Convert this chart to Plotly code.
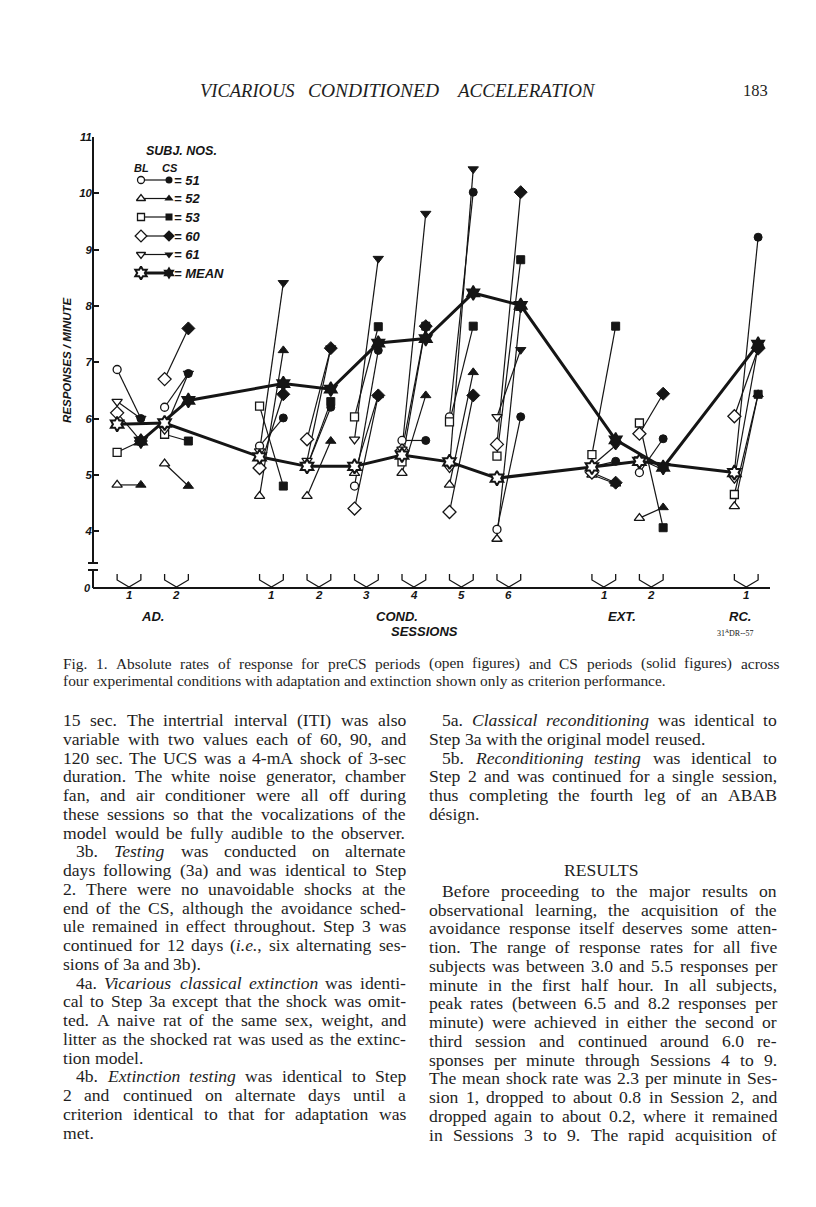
import itertools
import plotly.graph_objects as go

# ---------------- data ----------------
sessions = ["AD 1", "AD 2", "COND 1", "COND 2", "COND 3", "COND 4",
            "COND 5", "COND 6", "EXT 1", "EXT 2", "RC 1"]
session_pos = [0, 1, 3, 4, 5, 6, 7, 8, 10, 11, 13]
session_labels = ["1", "2", "1", "2", "3", "4", "5", "6", "1", "2", "1"]

bl_51 = [6.87, 6.20, 5.51, 5.15, 4.80, 5.61, 6.03, 4.03, 5.14, 5.04, 5.04]
cs_51 = [6.00, 6.80, 6.01, 6.20, 7.21, 5.61, 10.02, 6.03, 5.24, 5.64, 9.22]
bl_52 = [4.82, 5.20, 4.62, 4.62, 5.03, 5.03, 4.82, 3.86, 5.00, 4.23, 4.44]
cs_52 = [4.82, 4.80, 7.21, 5.60, 6.41, 6.41, 6.82, 7.96, 4.84, 4.42, 6.43]
bl_53 = [5.40, 5.72, 6.22, 5.15, 6.03, 5.23, 5.94, 5.33, 5.36, 5.92, 4.65]
cs_53 = [5.60, 5.60, 4.80, 6.30, 7.63, 7.64, 7.64, 8.82, 7.64, 4.06, 6.43]
bl_60 = [6.10, 6.70, 5.12, 5.63, 4.40, 5.43, 4.34, 5.54, 5.04, 5.73, 6.04]
cs_60 = [5.60, 7.60, 6.43, 7.25, 6.41, 7.64, 6.41, 10.02, 4.86, 6.44, 7.24]
bl_61 = [6.30, 5.80, 5.42, 5.25, 5.63, 5.45, 5.12, 6.03, 5.16, 5.28, 4.93]
cs_61 = [6.00, 6.80, 8.41, 7.25, 8.84, 9.64, 10.43, 7.22, 5.52, 5.09, 7.28]
mean_bl = [5.90, 5.92, 5.32, 5.15, 5.15, 5.35, 5.23, 4.94, 5.14, 5.24, 5.04]
mean_cs = [5.60, 6.32, 6.62, 6.52, 7.34, 7.42, 8.23, 8.01, 5.62, 5.13, 7.32]

subjects = ["51", "52", "53", "60", "61"]
bl_series = [bl_51, bl_52, bl_53, bl_60, bl_61]
cs_series = [cs_51, cs_52, cs_53, cs_60, cs_61]
y_ticks = [4, 5, 6, 7, 8, 9, 10, 11]

# ---------------- geometry / style ----------------
PAGE_W, PAGE_H = 816, 1207
BODY_M = 8                                   # html body margin
W, H = PAGE_W - BODY_M, PAGE_H - BODY_M
PL, PR, PT, PB = 93, 770, 137, 588          # plot box in page pixels
UNIT = 47.48                                 # px per session step
X0 = 129                                     # px of first session
PXV = 56.3                                   # px per response/min
Y_LO = 11 - (PB - PT) / PXV
OFF = 0.25                                   # BL / CS offset
INK = "#151515"
TXT = "#1e1e1e"
SANS = "Liberation Sans"
SERIF = "Liberation Serif"

symbols = {"51": "circle", "52": "triangle-up", "53": "square",
           "60": "diamond", "61": "triangle-down", "MEAN": "hexagram"}
msize = {"51": 8, "52": 9, "53": 8, "60": 10, "61": 9, "MEAN": 11}


def vy(py):
    return 11 - (py - PT) / PXV


def vx(px):
    return (px - X0) / UNIT


def paper_x(px):
    return (px - PL) / (PR - PL)


def paper_y(py):
    return (PB - py) / (PB - PT)


fig = go.Figure()

for s, bl, cs in zip(subjects, bl_series, cs_series):
    xs, ys = [], []
    for p, b, c in zip(session_pos, bl, cs):
        xs += [p - OFF, p + OFF, None]
        ys += [b, c, None]
    fig.add_trace(go.Scatter(x=xs, y=ys, mode="lines",
                             line=dict(color=INK, width=1.2),
                             hoverinfo="skip", showlegend=False))

fig.add_trace(go.Scatter(x=[p - OFF for p in session_pos], y=mean_bl, mode="lines",
                         line=dict(color=INK, width=3), showlegend=False))
fig.add_trace(go.Scatter(x=[p + OFF for p in session_pos], y=mean_cs, mode="lines",
                         line=dict(color=INK, width=3), showlegend=False))

for s, bl, cs in zip(subjects, bl_series, cs_series):
    fig.add_trace(go.Scatter(x=[p - OFF for p in session_pos], y=bl, mode="markers",
                             marker=dict(symbol=symbols[s], size=msize[s], color="white",
                                         line=dict(color=INK, width=1.3)),
                             cliponaxis=False, name=s + " BL", showlegend=False))
    fig.add_trace(go.Scatter(x=[p + OFF for p in session_pos], y=cs, mode="markers",
                             marker=dict(symbol=symbols[s], size=msize[s], color=INK,
                                         line=dict(color=INK, width=1)),
                             cliponaxis=False, name=s + " CS", showlegend=False))
fig.add_trace(go.Scatter(x=[p - OFF for p in session_pos], y=mean_bl, mode="markers",
                         marker=dict(symbol="hexagram", size=msize["MEAN"], color="white",
                                     line=dict(color=INK, width=2)),
                         cliponaxis=False, showlegend=False))
fig.add_trace(go.Scatter(x=[p + OFF for p in session_pos], y=mean_cs, mode="markers",
                         marker=dict(symbol="hexagram", size=msize["MEAN"], color=INK,
                                     line=dict(color=INK, width=1.5)),
                         cliponaxis=False, showlegend=False))

# ---------------- hand-drawn legend key (pixel axes) ----------------
leg_rows = [180, 198.5, 217, 236, 254.5, 273]
leg_names = subjects + ["MEAN"]
for ry, name in zip(leg_rows, leg_names):
    wdt = 3 if name == "MEAN" else 1.2
    fig.add_trace(go.Scatter(x=[141, 169], y=[ry, ry], xaxis="x2", yaxis="y2",
                             mode="lines", line=dict(color=INK, width=wdt),
                             showlegend=False, hoverinfo="skip"))
    fig.add_trace(go.Scatter(x=[141], y=[ry], xaxis="x2", yaxis="y2", mode="markers",
                             marker=dict(symbol=symbols[name], size=msize[name] - 1, color="white",
                                         line=dict(color=INK, width=1.3 if name != "MEAN" else 2)),
                             showlegend=False, hoverinfo="skip"))
    fig.add_trace(go.Scatter(x=[169], y=[ry], xaxis="x2", yaxis="y2", mode="markers",
                             marker=dict(symbol=symbols[name], size=msize[name] - 1, color=INK),
                             showlegend=False, hoverinfo="skip"))

annotations = []


def label(px, py, text, size, anchor="center", family=SANS, color=INK, angle=0):
    annotations.append(dict(x=paper_x(px), y=paper_y(py), xref="paper", yref="paper",
                            text=text, showarrow=False, xanchor=anchor, yanchor="middle",
                            textangle=angle, borderpad=0,
                            font=dict(family=family, size=size, color=color)))


# ---- Times-compatible advance widths (per 1000 em) for justified setting ----
RM = dict(zip("abcdefghijklmnopqrstuvwxyz",
              [444, 500, 444, 500, 444, 333, 500, 500, 278, 278, 500, 278, 778,
               500, 500, 500, 500, 333, 389, 278, 500, 500, 722, 500, 500, 444]))
RM.update(zip("ABCDEFGHIJKLMNOPQRSTUVWXYZ",
              [722, 667, 667, 722, 611, 556, 722, 722, 333, 389, 722, 611, 889,
               722, 722, 556, 722, 667, 556, 611, 722, 722, 944, 722, 722, 611]))
RM.update({c: 500 for c in "0123456789"})
RM.update({".": 250, ",": 250, "(": 333, ")": 333, "-": 333, ":": 278, ";": 278,
           "é": 444, "/": 278})
IT = dict(zip("abcdefghijklmnopqrstuvwxyz",
              [500, 500, 444, 500, 444, 278, 500, 500, 278, 278, 444, 278, 722,
               500, 500, 500, 500, 389, 389, 278, 500, 444, 667, 444, 444, 389]))
IT.update(zip("ABCDEFGHIJKLMNOPQRSTUVWXYZ",
              [611, 611, 667, 722, 611, 611, 722, 722, 333, 444, 667, 556, 833,
               667, 722, 611, 722, 611, 500, 556, 722, 611, 833, 611, 556, 556]))
IT.update({c: 500 for c in "0123456789"})
IT.update({".": 250, ",": 250, "(": 333, ")": 333, "-": 333})


def words_of(line):
    out, cur, ital, i = [], [], False, 0
    while i < len(line):
        if line.startswith("<i>", i):
            ital, i = True, i + 3
            continue
        if line.startswith("</i>", i):
            ital, i = False, i + 4
            continue
        ch = line[i]
        if ch == " ":
            if cur:
                out.append(cur)
            cur = []
        else:
            cur.append((ch, ital))
        i += 1
    if cur:
        out.append(cur)
    res = []
    for w in out:
        txt = ""
        for it, grp in itertools.groupby(w, key=lambda t: t[1]):
            seg = "".join(c for c, _ in grp)
            txt += "<i>%s</i>" % seg if it else seg
        width = sum((IT if it else RM).get(c, 500) for c, it in w) / 1000.0
        res.append((txt, width))
    return res


def set_line(x_left, x_right, py, line, size, justify=True, family=SERIF):
    ws = words_of(line)
    natural = sum(w for _, w in ws) * size
    if justify and len(ws) > 1:
        gap = max((x_right - x_left - natural) / (len(ws) - 1), 0.2 * size)
    else:
        gap = 0.25 * size
    x = x_left
    for txt, w in ws:
        label(x, py, txt, size, anchor="left", family=family, color=TXT)
        x += w * size + gap


# ---- chart texts ----
label(181, 151, "<b><i>SUBJ. NOS.</i></b>", 12.5)
label(141, 168, "<b><i>BL</i></b>", 11)
label(170, 168, "<b><i>CS</i></b>", 11)
for ry, name in zip(leg_rows, leg_names):
    label(173, ry, "<b><i>= " + name + "</i></b>", 13, anchor="left")

label(67, 360, "<b><i>RESPONSES / MINUTE</i></b>", 11.5, angle=-90)

for p, t in zip(session_pos, session_labels):
    label(X0 + p * UNIT, 595, "<b><i>" + t + "</i></b>", 11.5)
label(152, 616, "<b><i>AD.</i></b>", 13)
label(397, 616, "<b><i>COND.</i></b>", 13)
label(622, 616, "<b><i>EXT.</i></b>", 13)
label(740, 616, "<b><i>RC.</i></b>", 13)
label(424, 631, "<b><i>SESSIONS</i></b>", 13)
label(735, 633, "31<sup>A</sup>DR--57", 8, family=SERIF)
label(87, 588, "<b><i>0</i></b>", 11)

# ---------------- page text ----------------
label(247, 91, "<i>VICARIOUS</i>", 18.5, family=SERIF, color=TXT)
label(373, 91, "<i>CONDITIONED</i>", 19.5, family=SERIF, color=TXT)
label(526, 91, "<i>ACCELERATION</i>", 19, family=SERIF, color=TXT)
label(755, 91, "183", 16.5, family=SERIF, color=TXT)

set_line(62, 778, 663, "Fig. 1. Absolute rates of response for preCS periods (open figures) and CS "
                      "periods (solid figures) across", 15.4)
set_line(62, 778, 680, "four experimental conditions with adaptation and extinction shown only as "
                      "criterion performance.", 15.4, justify=False)

# (indent, justified, text)
left_col = [
    (0, 1, "15 sec. The intertrial interval (ITI) was also"),
    (0, 1, "variable with two values each of 60, 90, and"),
    (0, 1, "120 sec. The UCS was a 4-mA shock of 3-sec"),
    (0, 1, "duration. The white noise generator, chamber"),
    (0, 1, "fan, and air conditioner were all off during"),
    (0, 1, "these sessions so that the vocalizations of the"),
    (0, 1, "model would be fully audible to the observer."),
    (1, 1, "3b. <i>Testing</i> was conducted on alternate"),
    (0, 1, "days following (3a) and was identical to Step"),
    (0, 1, "2. There were no unavoidable shocks at the"),
    (0, 1, "end of the CS, although the avoidance sched-"),
    (0, 1, "ule remained in effect throughout. Step 3 was"),
    (0, 1, "continued for 12 days (<i>i.e.</i>, six alternating ses-"),
    (0, 0, "sions of 3a and 3b)."),
    (1, 1, "4a. <i>Vicarious classical extinction</i> was identi-"),
    (0, 1, "cal to Step 3a except that the shock was omit-"),
    (0, 1, "ted. A naive rat of the same sex, weight, and"),
    (0, 1, "litter as the shocked rat was used as the extinc-"),
    (0, 0, "tion model."),
    (1, 1, "4b. <i>Extinction testing</i> was identical to Step"),
    (0, 1, "2 and continued on alternate days until a"),
    (0, 1, "criterion identical to that for adaptation was"),
    (0, 0, "met."),
]
right_top = [
    (1, 1, "5a. <i>Classical reconditioning</i> was identical to"),
    (0, 0, "Step 3a with the original model reused."),
    (1, 1, "5b. <i>Reconditioning testing</i> was identical to"),
    (0, 1, "Step 2 and was continued for a single session,"),
    (0, 1, "thus completing the fourth leg of an ABAB"),
    (0, 0, "désign."),
]
right_bottom = [
    (1, 1, "Before proceeding to the major results on"),
    (0, 1, "observational learning, the acquisition of the"),
    (0, 1, "avoidance response itself deserves some atten-"),
    (0, 1, "tion. The range of response rates for all five"),
    (0, 1, "subjects was between 3.0 and 5.5 responses per"),
    (0, 1, "minute in the first half hour. In all subjects,"),
    (0, 1, "peak rates (between 6.5 and 8.2 responses per"),
    (0, 1, "minute) were achieved in either the second or"),
    (0, 1, "third session and continued around 6.0 re-"),
    (0, 1, "sponses per minute through Sessions 4 to 9."),
    (0, 1, "The mean shock rate was 2.3 per minute in Ses-"),
    (0, 1, "sion 1, dropped to about 0.8 in Session 2, and"),
    (0, 1, "dropped again to about 0.2, where it remained"),
    (0, 1, "in Sessions 3 to 9. The rapid acquisition of"),
]
LINE0, LSTEP, BODY = 720, 18.75, 17.6
LC = (62, 405)
RCOL = (428, 776)
for i, (ind, just, t) in enumerate(left_col):
    set_line(LC[0] + 13 * ind, LC[1], LINE0 + i * LSTEP, t, BODY, bool(just))
for i, (ind, just, t) in enumerate(right_top):
    set_line(RCOL[0] + 13 * ind, RCOL[1], LINE0 + i * LSTEP, t, BODY, bool(just))
label(601, 870, "RESULTS", BODY, family=SERIF, color=TXT)
for i, (ind, just, t) in enumerate(right_bottom):
    set_line(RCOL[0] + 13 * ind, RCOL[1], LINE0 + (9 + i) * LSTEP + 2, t, BODY, bool(just))

# ---------------- axis drawing (shapes) ----------------
shapes = []
shapes.append(dict(type="line", xref="paper", yref="y", x0=0, x1=0, y0=vy(563), y1=11,
                   line=dict(color=INK, width=2)))
shapes.append(dict(type="line", xref="paper", yref="y", x0=paper_x(88), x1=paper_x(98),
                   y0=vy(563), y1=vy(563), line=dict(color=INK, width=2)))
shapes.append(dict(type="line", xref="paper", yref="y", x0=paper_x(88), x1=paper_x(98),
                   y0=vy(570), y1=vy(570), line=dict(color=INK, width=2)))
shapes.append(dict(type="line", xref="paper", yref="y", x0=0, x1=0, y0=vy(570), y1=Y_LO,
                   line=dict(color=INK, width=2)))
shapes.append(dict(type="line", xref="paper", yref="paper", x0=0, x1=1, y0=0, y1=0,
                   line=dict(color=INK, width=2)))
for p in session_pos:
    xl, xc, xr = p - OFF, p, p + OFF
    path = (f"M {xl},{vy(574)} L {xl},{vy(580)} L {xc},{vy(587)} "
            f"L {xr},{vy(580)} L {xr},{vy(574)}")
    shapes.append(dict(type="path", xref="x", yref="y", path=path,
                       line=dict(color=INK, width=1.3)))

fig.update_layout(
    width=W, height=H,
    margin=dict(l=PL - BODY_M, r=PAGE_W - PR, t=PT - BODY_M, b=PAGE_H - PB, pad=0),
    paper_bgcolor="white", plot_bgcolor="white",
    showlegend=False,
    xaxis=dict(range=[vx(PL), vx(PR)], showgrid=False, zeroline=False, showline=False,
               showticklabels=False, ticks=""),
    yaxis=dict(range=[Y_LO, 11], showgrid=False, zeroline=False, showline=False,
               tickvals=y_ticks, ticktext=["<b><i>%d</i></b>" % v for v in y_ticks],
               ticks="inside", ticklen=6, tickwidth=2, tickcolor=INK,
               tickfont=dict(family=SANS, size=11.5, color=INK)),
    xaxis2=dict(range=[PL, PR], overlaying="x", anchor="y2", visible=False),
    yaxis2=dict(range=[PB, PT], overlaying="y", anchor="x2", visible=False),
    annotations=annotations,
    shapes=shapes,
)

fig.write_html("out.html")
